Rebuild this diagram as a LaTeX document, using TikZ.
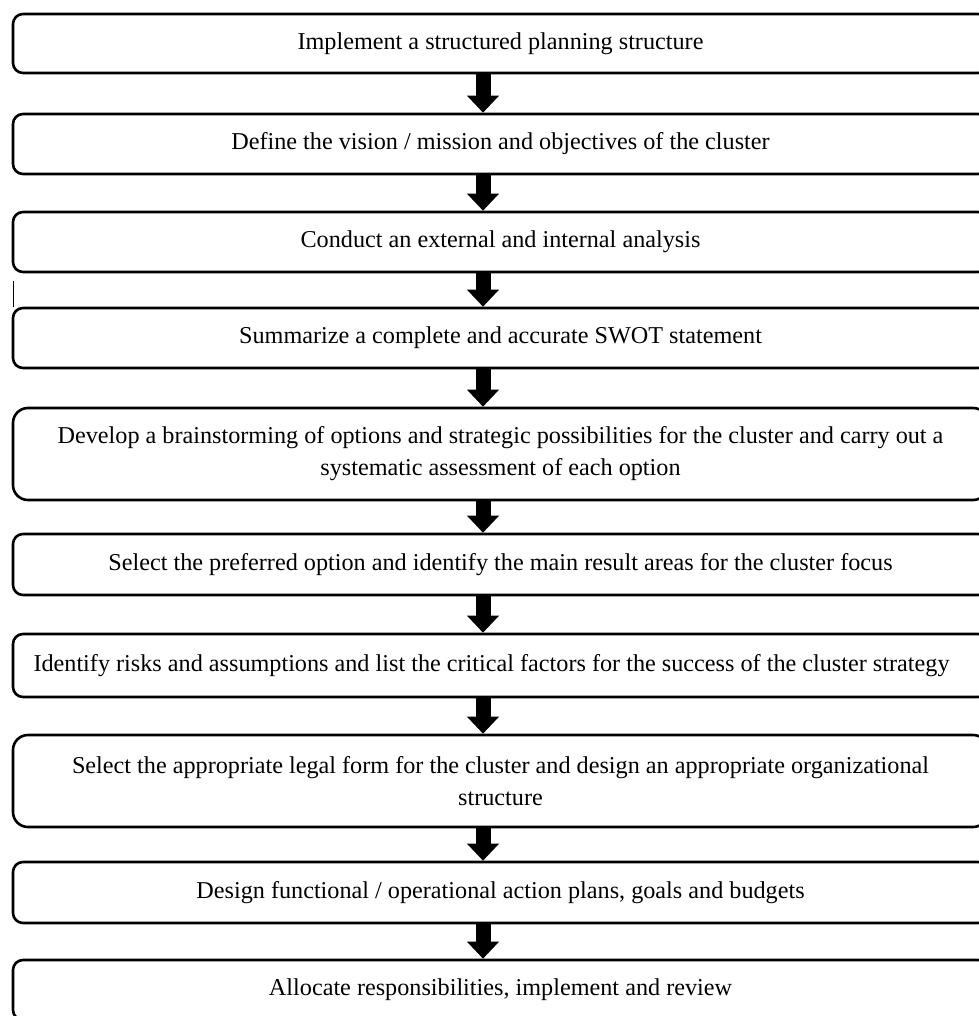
\documentclass[tikz,border=0pt]{standalone}
\usepackage{fontspec}
\setmainfont{Liberation Serif}
\usetikzlibrary{arrows.meta}
\tikzset{
  stepbox/.style={draw=black, line width=2.6pt, rounded corners=10pt, minimum width=975pt,
    inner sep=0pt, align=center, font=\fontsize{24.2}{32}\selectfont, fill=white},
  tallbox/.style={stepbox, rounded corners=15pt},
  flow/.style={line width=15pt, line cap=butt, -{Triangle[width=31pt,length=17pt]}}
}
\begin{document}
\begin{tikzpicture}[x=1pt,y=-1pt]
\useasboundingbox (0,0) rectangle (978,1016);
\coordinate (ax) at (483,0);
\node[stepbox, minimum height=59pt] (b1) at (500.5,43.5) {Implement a structured planning structure};
\node[stepbox, minimum height=60pt] (b2) at (500.5,144) {Define the vision / mission and objectives of the cluster};
\node[stepbox, minimum height=60pt] (b3) at (500.5,242) {Conduct an external and internal analysis};
\node[stepbox, minimum height=60pt] (b4) at (500.5,338) {Summarize a complete and accurate SWOT statement};
\node[tallbox, minimum height=92pt] (b5) at (500.5,454) {Develop a brainstorming of options and strategic possibilities for the cluster and carry out a\\systematic assessment of each option};
\node[stepbox, minimum height=61pt] (b6) at (500.5,564.5) {Select the preferred option and identify the main result areas for the cluster focus};
\node[stepbox, minimum height=63pt] (b7) at (500.5,665.5) {Identify risks and assumptions and list the critical factors for the success of the cluster strategy\rule{18pt}{0pt}};
\node[tallbox, minimum height=92pt] (b8) at (500.5,781) {Select the appropriate legal form for the cluster and design an appropriate organizational\\structure};
\node[stepbox, minimum height=61pt] (b9) at (500.5,892.5) {Design functional / operational action plans, goals and budgets};
\node[stepbox, minimum height=60pt] (b10) at (500.5,990) {Allocate responsibilities, implement and review};
\draw[line width=1.2pt] ([xshift=2pt]b4.north west) -- ++(0,-26);
\foreach \a/\b in {b1/b2,b2/b3,b3/b4,b4/b5,b5/b6,b6/b7,b7/b8,b8/b9,b9/b10}{
  \draw[flow] (\a.south -| ax) -- (\b.north -| ax);
}
\end{tikzpicture}
\end{document}
